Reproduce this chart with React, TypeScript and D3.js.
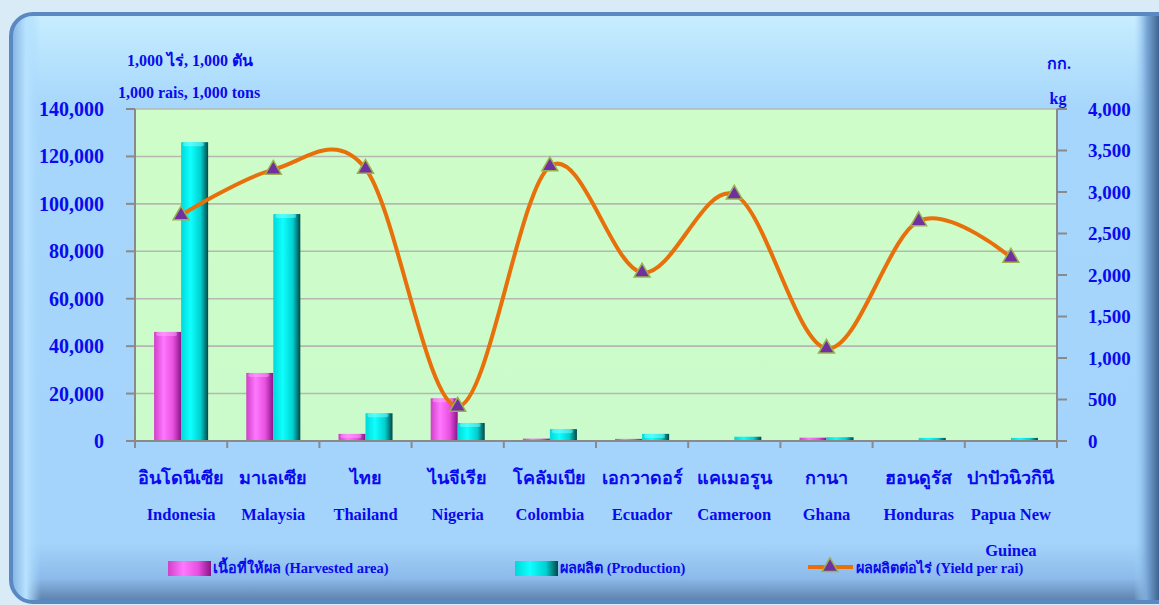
import React from "react";
import * as d3 from "d3";

const categoriesTh = ["อินโดนีเซีย", "มาเลเซีย", "ไทย", "ไนจีเรีย", "โคลัมเบีย", "เอกวาดอร์", "แคเมอรูน", "กานา", "ฮอนดูรัส", "ปาปัวนิวกินี"];
const categoriesEn = ["Indonesia", "Malaysia", "Thailand", "Nigeria", "Colombia", "Ecuador", "Cameroon", "Ghana", "Honduras", "Papua New|Guinea"];
const harvestedArea = [46000, 28700, 3000, 18000, 1000, 900, 300, 1400, 200, 200];
const production = [126000, 95700, 11700, 7600, 5000, 3000, 1800, 1600, 1300, 1300];
const yieldPerRai = [2720, 3270, 3280, 415, 3310, 2030, 2970, 1115, 2650, 2210];
const leftTicks = [0, 20000, 40000, 60000, 80000, 100000, 120000, 140000];
const rightTicks = [0, 500, 1000, 1500, 2000, 2500, 3000, 3500, 4000];
const seriesNames = ["เนื้อที่ให้ผล  (Harvested area)", "ผลผลิต (Production)", "ผลผลิตต่อไร่ (Yield per rai)"];

const W = 1159, H = 605;
const X0 = 135, X1 = 1057, Y0 = 441, Y1 = 109;
const BLUE = "#0a0aee";
const FONT = "'Liberation Serif', 'Times New Roman', serif";

export default function App() {
  const x = d3.scaleBand<string>().domain(categoriesEn).range([X0, X1]).paddingInner(0.414).paddingOuter(0.207);
  const xi = d3.scaleBand<string>().domain(["h", "p"]).range([0, x.bandwidth()]);
  const yL = d3.scaleLinear().domain([0, 140000]).range([Y0, Y1]);
  const yR = d3.scaleLinear().domain([0, 4000]).range([Y0, Y1]);
  const step = x.step();
  const cx = (i: number) => (x(categoriesEn[i]) as number) + x.bandwidth() / 2;
  const linePts: [number, number][] = yieldPerRai.map((v, i) => [cx(i), yR(v)]);
  const line = d3.line().curve(d3.curveCardinal.tension(0))(linePts) || "";
  const tri = d3.symbol().type(d3.symbolTriangle).size(110)() || "";
  const fmt = d3.format(",");

  const bar = (v: number, i: number, s: "h" | "p") => {
    const bx = (x(categoriesEn[i]) as number) + (xi(s) as number);
    const bw = xi.bandwidth();
    const y = yL(v);
    const h = Y0 - y;
    return (
      <g key={s + i}>
        <rect x={bx} y={y} width={bw} height={h} fill={s === "h" ? "url(#gPink)" : "url(#gCyan)"} />
        {h > 6 && <rect x={bx + 2} y={y} width={bw - 6} height={4} rx={2} fill={s === "h" ? "#ffb0ff" : "#a0ffff"} opacity={0.45} />}
      </g>
    );
  };

  return (
    <svg width={W} height={H} style={{ position: "absolute", left: 0, top: 0 }} fontFamily={FONT} fontWeight="bold">
      <defs>
        <linearGradient id="gPink" x1="0" x2="1" y1="0" y2="0">
          <stop offset="0" stopColor="#d040c8" />
          <stop offset="0.35" stopColor="#ff78ff" />
          <stop offset="0.7" stopColor="#e850e0" />
          <stop offset="1" stopColor="#8a1488" />
        </linearGradient>
        <linearGradient id="gCyan" x1="0" x2="1" y1="0" y2="0">
          <stop offset="0" stopColor="#00d8d8" />
          <stop offset="0.35" stopColor="#10ffff" />
          <stop offset="0.72" stopColor="#00d0d0" />
          <stop offset="1" stopColor="#004848" />
        </linearGradient>
        <linearGradient id="gFrame" x1="0" x2="0" y1="0" y2="1">
          <stop offset="0" stopColor="#c8eeff" />
          <stop offset="0.08" stopColor="#b6e2fd" />
          <stop offset="0.16" stopColor="#a6d6fb" />
          <stop offset="0.9" stopColor="#a4d4fb" />
          <stop offset="0.96" stopColor="#8cbaea" />
          <stop offset="1" stopColor="#5a7ea8" />
        </linearGradient>
        <linearGradient id="gRight" x1="0" x2="1" y1="0" y2="0">
          <stop offset="0" stopColor="#a4d4fb" stopOpacity={0} />
          <stop offset="0.5" stopColor="#7aa8d8" />
          <stop offset="1" stopColor="#3e6590" />
        </linearGradient>
        <linearGradient id="gLeft" x1="0" x2="1" y1="0" y2="0">
          <stop offset="0" stopColor="#80b0e0" />
          <stop offset="0.5" stopColor="#b8e2ff" />
          <stop offset="1" stopColor="#a8d8fc" stopOpacity={0} />
        </linearGradient>
        <linearGradient id="gPlot" x1="0" x2="0" y1="0" y2="1">
          <stop offset="0" stopColor="#cffdc9" />
          <stop offset="1" stopColor="#cbfbcb" />
        </linearGradient>
        <clipPath id="frameClip">
          <rect x={11} y={14} width={1170} height={588} rx={22} />
        </clipPath>
      </defs>
      <rect x={0} y={0} width={W} height={H} fill="#d8ebf7" />
      <g clipPath="url(#frameClip)">
        <rect x={11} y={14} width={1170} height={588} fill="url(#gFrame)" />
        <rect x={11} y={14} width={30} height={588} fill="url(#gLeft)" />
        <rect x={1134} y={14} width={25} height={588} fill="url(#gRight)" />
      </g>
      <rect x={11} y={14} width={1170} height={588} rx={22} fill="none" stroke="#5a88c2" strokeWidth={4} />

      {/* plot area */}
      <rect x={X0} y={Y1} width={X1 - X0} height={Y0 - Y1} fill="url(#gPlot)" />
      {leftTicks.filter((t) => t > 0).map((t) => (
        <line key={"g" + t} x1={X0} x2={X1} y1={yL(t)} y2={yL(t)} stroke="#b4b8b0" strokeWidth={1.6} />
      ))}

      {harvestedArea.map((v, i) => bar(v, i, "h"))}
      {production.map((v, i) => bar(v, i, "p"))}

      {/* axes */}
      <line x1={X0} x2={X0} y1={Y1} y2={Y0 + 7} stroke="#8a8a8a" strokeWidth={2} />
      <line x1={X1} x2={X1} y1={Y1} y2={Y0 + 7} stroke="#8a8a8a" strokeWidth={2} />
      <line x1={X0 - 9} x2={X1 + 10} y1={Y0} y2={Y0} stroke="#8a8a8a" strokeWidth={2} />
      {leftTicks.map((t) => (
        <g key={"l" + t}>
          <line x1={X0 - 9} x2={X0} y1={yL(t)} y2={yL(t)} stroke="#8a8a8a" strokeWidth={2} />
          <text x={104} y={yL(t)} dy="0.35em" textAnchor="end" fontSize={20} fill={BLUE}>{fmt(t)}</text>
        </g>
      ))}
      {rightTicks.map((t) => (
        <g key={"r" + t}>
          <line x1={X1} x2={X1 + 10} y1={yR(t)} y2={yR(t)} stroke="#8a8a8a" strokeWidth={2} />
          <text x={1088} y={yR(t)} dy="0.35em" textAnchor="start" fontSize={19} fill={BLUE}>{fmt(t)}</text>
        </g>
      ))}
      {categoriesEn.map((c, i) => (
        <line key={"t" + i} x1={X0 + step * (i + 1)} x2={X0 + step * (i + 1)} y1={Y0} y2={Y0 + 7} stroke="#8a8a8a" strokeWidth={2} />
      ))}

      {/* yield line */}
      <path d={line} fill="none" stroke="#e8700a" strokeWidth={4} />
      {linePts.map(([px, py], i) => (
        <path key={"m" + i} d={tri} transform={`translate(${px},${py})`} fill="#7030a0" stroke="#9bb050" strokeWidth={1.5} />
      ))}

      {/* category labels */}
      {categoriesTh.map((c, i) => (
        <text key={"th" + i} x={cx(i)} y={484} textAnchor="middle" fontSize={18} fill={BLUE}>{c}</text>
      ))}
      {categoriesEn.map((c, i) =>
        c.split("|").map((part, j) => (
          <text key={"en" + i + j} x={cx(i)} y={520 + j * 36} textAnchor="middle" fontSize={16.5} fill={BLUE}>{part}</text>
        ))
      )}

      {/* unit labels */}
      <text x={190} y={66} textAnchor="middle" fontSize={16} fill={BLUE}>1,000 ไร่,  1,000 ตัน</text>
      <text x={189} y={98} textAnchor="middle" fontSize={16} fill={BLUE}>1,000 rais,  1,000 tons</text>
      <text x={1059} y={69} textAnchor="middle" fontSize={16} fill={BLUE}>กก.</text>
      <text x={1058} y={104} textAnchor="middle" fontSize={16} fill={BLUE}>kg</text>

      {/* legend */}
      <rect x={168} y={561} width={43} height={15} fill="url(#gPink)" />
      <text x={213} y={573} fontSize={14.5} fill={BLUE}>{seriesNames[0]}</text>
      <rect x={515} y={561} width={43} height={15} fill="url(#gCyan)" />
      <text x={560} y={573} fontSize={14.5} fill={BLUE}>{seriesNames[1]}</text>
      <line x1={808} x2={853} y1={567} y2={567} stroke="#e8700a" strokeWidth={4} />
      <path d={tri} transform="translate(830,567)" fill="#7030a0" stroke="#9bb050" strokeWidth={1.5} />
      <text x={856} y={573} fontSize={14.5} fill={BLUE}>{seriesNames[2]}</text>
    </svg>
  );
}
